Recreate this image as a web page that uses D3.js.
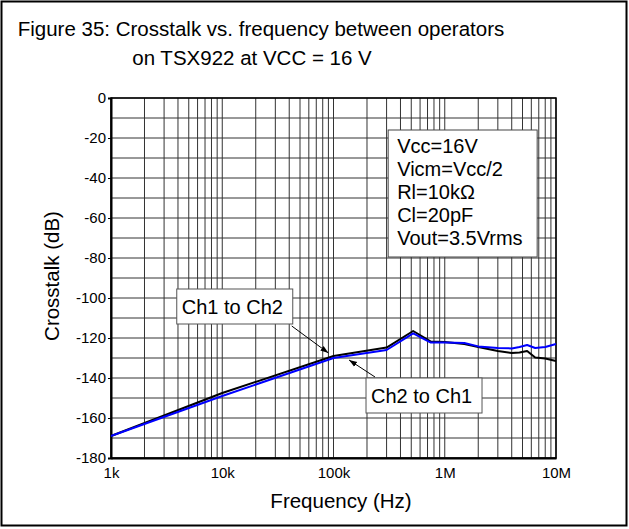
<!DOCTYPE html>
<html>
<head>
<meta charset="utf-8">
<script src="https://cdn.jsdelivr.net/npm/d3@7"></script>
<style>
  body { margin: 0; background: #fff; }
  text { font-family: "Liberation Sans", Arial, sans-serif; fill: #000; }
</style>
</head>
<body>
<svg width="629" height="529"></svg>
<script>
// values
const freq     = [1e3, 1e4, 1e5, 3e5, 5.2e5, 7.5e5, 1e6, 1.5e6, 2e6, 3e6, 4e6, 4.7e6, 5.5e6, 6.5e6, 8e6, 1e7]
const ch1ToCh2 = [-169, -147.5, -129, -124.8, -116.5, -121.8, -122, -123, -124.5, -126.5, -127.5, -127.2, -126.5, -129.8, -130.3, -131.5]
const ch2ToCh1 = [-169, -149, -130, -126, -117.7, -122.3, -122.3, -122.5, -124.2, -125, -125.2, -124.5, -123.5, -125, -124.5, -123]

const xTickValues = [1e3, 1e4, 1e5, 1e6, 1e7]
const xTickLabels = ["1k", "10k", "100k", "1M", "10M"]
const yTickValues = [0, -20, -40, -60, -80, -100, -120, -140, -160, -180]

const conditions = ["Vcc=16V", "Vicm=Vcc/2", "Rl=10k\u03a9", "Cl=20pF", "Vout=3.5Vrms"]
const titleLines = ["Figure 35: Crosstalk vs. frequency between operators", "on TSX922 at VCC = 16 V"]

const svg = d3.select("svg"),
      margin = {top: 98, right: 73, bottom: 71, left: 111},
      width = svg.attr("width") - margin.left - margin.right,
      height = svg.attr("height") - margin.top - margin.bottom

// outer frame
svg.append("rect")
  .attr("x", 1.5).attr("y", 1.5)
  .attr("width", 625).attr("height", 524)
  .attr("fill", "#fff").attr("stroke", "#000").attr("stroke-width", 2)

svg.selectAll(".title")
  .data(titleLines)
  .enter().append("text")
    .attr("class", "title")
    .attr("x", (d, i) => i === 0 ? 261 : 252)
    .attr("y", (d, i) => 36 + i * 29)
    .attr("text-anchor", "middle")
    .style("font-size", "20.5px")
    .text(d => d)

const g = svg.append("g").attr("transform", "translate(" + margin.left + "," + margin.top + ")")

const x = d3.scaleLog().domain([1e3, 1e7]).range([0, width]),
      y = d3.scaleLinear().domain([0, -180]).range([0, height])

// grid
g.selectAll(".vgrid")
  .data(x.ticks())
  .enter().append("line")
    .attr("x1", d => x(d)).attr("x2", d => x(d))
    .attr("y1", 0).attr("y2", height)
    .attr("stroke", "#333").attr("stroke-width", 1)

g.selectAll(".hgrid")
  .data(y.ticks(18))
  .enter().append("line")
    .attr("x1", 0).attr("x2", width)
    .attr("y1", d => y(d)).attr("y2", d => y(d))
    .attr("stroke", "#333").attr("stroke-width", 1)

g.append("rect")
  .attr("width", width).attr("height", height)
  .attr("fill", "none").attr("stroke", "#000").attr("stroke-width", 1.5)

// axes
const xAxis = g.append("g")
  .attr("transform", "translate(0," + height + ")")
  .call(d3.axisBottom(x).tickValues(xTickValues).tickFormat((d, i) => xTickLabels[i]).tickSize(0).tickPadding(9))
xAxis.select(".domain").attr("stroke-width", 2)
xAxis.selectAll("text").style("font-size", "15px").attr("font-family", null)

// plain hyphen for negatives, like the original
const yAxis = g.append("g")
  .call(d3.axisLeft(y).tickValues(yTickValues).tickFormat(d => String(d)).tickSize(3).tickPadding(2))
yAxis.select(".domain").attr("stroke-width", 2)
yAxis.selectAll("text").style("font-size", "15px").attr("font-family", null)

g.append("text")
  .attr("x", 230).attr("y", 410)
  .attr("text-anchor", "middle")
  .style("font-size", "20.5px")
  .text("Frequency (Hz)")

g.append("text")
  .attr("transform", "translate(-52," + (height / 2 - 2) + ") rotate(-90)")
  .attr("text-anchor", "middle")
  .style("font-size", "20.5px")
  .text("Crosstalk (dB)")

// curves
const line = d3.line()
  .x(d => x(d.f))
  .y(d => y(d.v))

const series = [
  {id: "ch1", color: "#000", values: freq.map((f, i) => ({f: f, v: ch1ToCh2[i]}))},
  {id: "ch2", color: "#0000ff", values: freq.map((f, i) => ({f: f, v: ch2ToCh1[i]}))}
]

g.selectAll(".curve")
  .data(series)
  .enter().append("path")
    .attr("d", d => line(d.values))
    .attr("fill", "none")
    .attr("stroke", d => d.color)
    .attr("stroke-width", 2)
    .attr("stroke-linejoin", "round")

// test conditions box
const cond = g.append("g").attr("transform", "translate(" + (x(3.1e5)) + "," + y(-16) + ")")
cond.append("rect")
  .attr("width", 149).attr("height", 127)
  .attr("fill", "#fff").attr("stroke", "#444").attr("stroke-width", 1)
cond.selectAll("text")
  .data(conditions)
  .enter().append("text")
    .attr("x", 9)
    .attr("y", (d, i) => 23 + i * 23)
    .style("font-size", "20px")
    .text(d => d)

// arrow annotations
svg.append("defs").append("marker")
  .attr("id", "head")
  .attr("viewBox", "0 0 10 10")
  .attr("refX", 10).attr("refY", 5)
  .attr("markerWidth", 8).attr("markerHeight", 8)
  .attr("orient", "auto")
  .append("path").attr("d", "M0,1.5L10,5L0,8.5Z").attr("fill", "#000")

const notes = [
  {text: "Ch1 to Ch2", boxF: 3.9e3, boxDb: -95.5, tailDx: 115, tailDy: 37, tipF: 9e4, tipDb: -127.5},
  {text: "Ch2 to Ch1", boxF: 1.96e5, boxDb: -140, tailDx: 9, tailDy: -1, tipF: 1.38e5, tipDb: -131}
]

notes.forEach(function (n) {
  let bx = x(n.boxF), by = y(n.boxDb)
  g.append("line")
    .attr("x1", bx + n.tailDx).attr("y1", by + n.tailDy)
    .attr("x2", x(n.tipF)).attr("y2", y(n.tipDb))
    .attr("stroke", "#000").attr("stroke-width", 1)
    .attr("marker-end", "url(#head)")
  g.append("rect")
    .attr("x", bx).attr("y", by)
    .attr("width", 116).attr("height", 35)
    .attr("fill", "#fff").attr("stroke", "#555").attr("stroke-width", 1)
  g.append("text")
    .attr("x", bx + 5).attr("y", by + 25)
    .style("font-size", "20px")
    .text(n.text)
})
</script>
</body>
</html>
